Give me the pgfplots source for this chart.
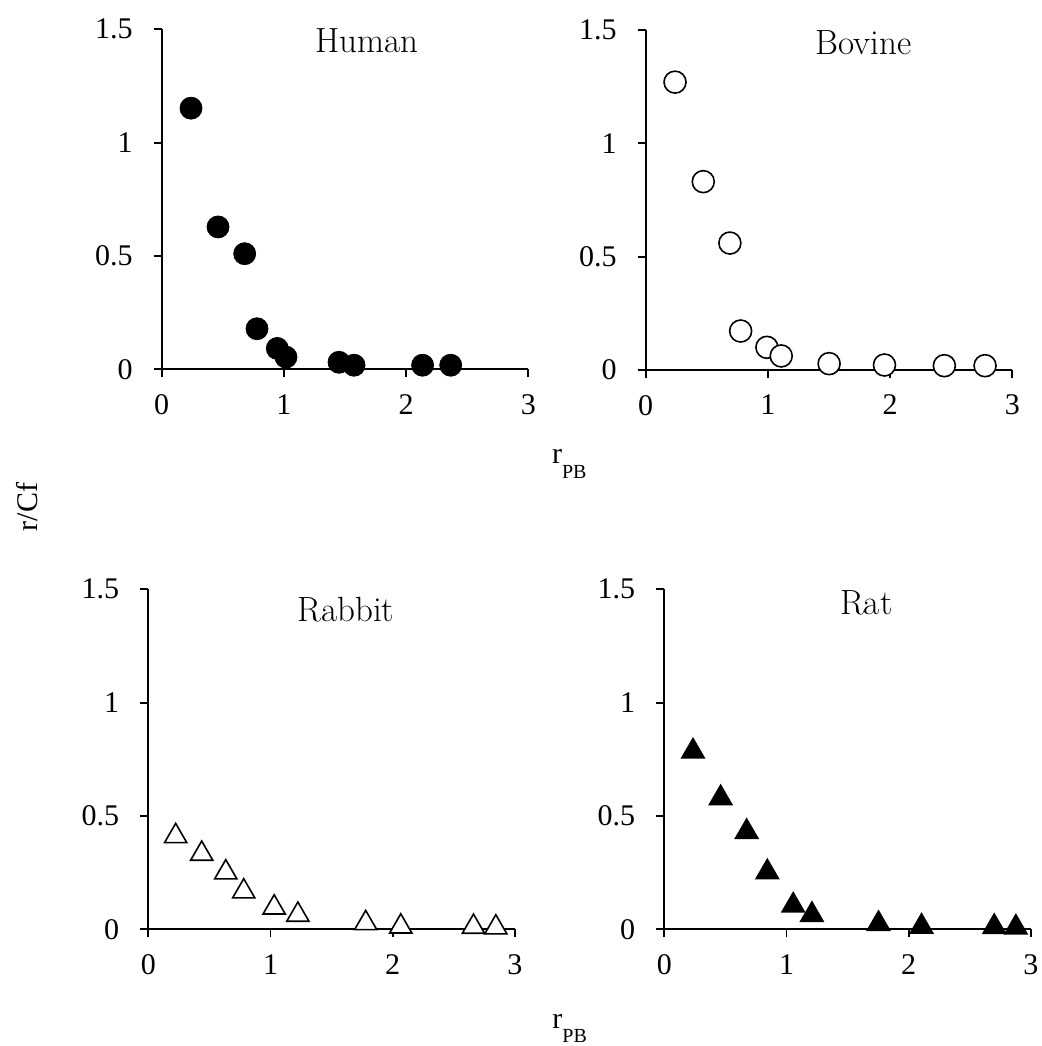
\documentclass[border=0pt]{standalone}
\usepackage{fontspec}
\usepackage{pgfplots}
\pgfplotsset{compat=1.18}
\newfontfamily\tnr{Liberation Serif}

\pgfplotstableread{
x y
0.240 1.152
0.461 0.628
0.679 0.510
0.780 0.179
0.946 0.092
1.017 0.054
1.451 0.031
1.574 0.018
2.135 0.018
2.365 0.018
}\human
\pgfplotstableread{
x y
0.240 1.270
0.471 0.831
0.689 0.560
0.777 0.172
0.992 0.100
1.109 0.062
1.501 0.028
1.954 0.022
2.444 0.019
2.777 0.019
}\bovine
\pgfplotstableread{
x y
0.224 0.425
0.437 0.347
0.634 0.265
0.781 0.181
1.030 0.110
1.224 0.078
1.779 0.041
2.066 0.026
2.661 0.025
2.844 0.022
}\rabbit
\pgfplotstableread{
x y
0.235 0.799
0.461 0.593
0.674 0.444
0.843 0.266
1.055 0.119
1.208 0.078
1.753 0.038
2.105 0.026
2.700 0.025
2.877 0.022
}\rat

\pgfplotsset{
  panel/.style={
    scale only axis, width=183.3pt, height=170pt,
    xmin=0, xmax=3, ymin=0, ymax=1.5,
    xtick={0,1,2,3}, ytick={0,0.5,1,1.5},
    axis x line*=bottom, axis y line*=left,
    axis line style={line width=0.9pt,-},
    tick align=outside, major tick length=4pt,
    tick style={line width=0.9pt,black},
    tick label style={font=\tnr\fontsize{15}{18}\selectfont},
    xticklabel style={yshift=-5pt},
    yticklabel style={xshift=-7pt},
    /pgf/number format/assume math mode=true,
    clip=false,
    set layers,
  },
}
\tikzset{ttl/.style={font=\fontsize{17.5}{21}\selectfont}}

\begin{document}
\begin{tikzpicture}

\begin{axis}[panel, at={(80.85pt,338.35pt)}, anchor=south west]
\addplot[only marks, mark=*, mark size=5.5pt, mark options={fill=black, draw=black}] table {\human};
\node[ttl] at (rel axis cs:0.559,0.966) {Human};
\end{axis}

\begin{axis}[panel, at={(322.85pt,338pt)}, anchor=south west]
\addplot[only marks, mark=*, mark size=5.5pt, mark options={fill=white, draw=black, line width=0.8pt}] table {\bovine};
\node[ttl] at (rel axis cs:0.595,0.963) {Bovine};
\end{axis}

\begin{axis}[panel, at={(74.15pt,58.35pt)}, anchor=south west]
\addplot[only marks, mark=triangle*, mark size=6.4pt, mark options={fill=white, draw=black, line width=0.8pt, yshift=-1.6pt}] table {\rabbit};
\node[ttl] at (rel axis cs:0.539,0.939) {Rabbit};
\end{axis}

\begin{axis}[panel, at={(332.15pt,58.35pt)}, anchor=south west]
\addplot[only marks, mark=triangle*, mark size=6.4pt, mark options={fill=black, draw=black, line width=0.8pt, yshift=-1.6pt}] table {\rat};
\node[ttl] at (rel axis cs:0.551,0.961) {Rat};
\end{axis}

\node[anchor=base west, inner sep=0pt, font=\tnr\fontsize{15}{18}\selectfont] at (275.85pt,291pt) {r\raisebox{-7.5pt}{\fontsize{10}{12}\selectfont PB}};
\node[anchor=base west, inner sep=0pt, font=\tnr\fontsize{15}{18}\selectfont] at (276pt,9pt) {r\raisebox{-7pt}{\fontsize{10}{12}\selectfont PB}};
\node[rotate=90, inner sep=0pt, font=\tnr\fontsize{15}{18}\selectfont] at (13.75pt,269.5pt) {r/Cf};

\pgfresetboundingbox
\useasboundingbox (0,0) rectangle (521pt,523pt);
\end{tikzpicture}
\end{document}
